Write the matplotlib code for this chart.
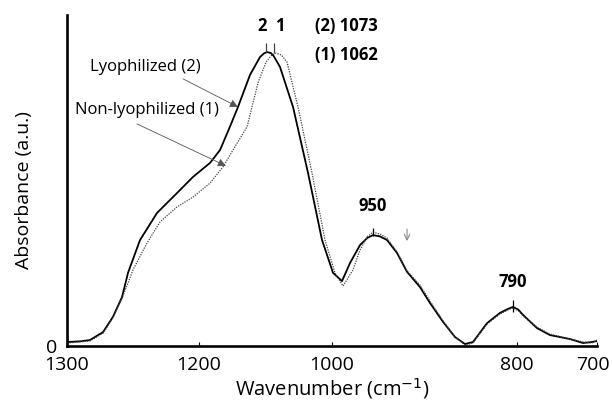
import numpy as np
import matplotlib
matplotlib.use("Agg")
import matplotlib.pyplot as plt
import matplotlib.transforms as mtransforms

plt.rcParams['font.family'] = ['Open Sans', 'DejaVu Sans']

# wavenumber ticks and where they sit along the (non-linear) axis of the original
tick_wn = [1300, 1200, 1000, 800, 700]
tick_pos = [0, 132, 265, 450, 530]

# lyophilized (2), solid line
wn_lyo = [1300, 1290.2, 1282.6, 1272.7, 1265.2, 1258.3, 1253.8, 1244.7, 1231.8, 1216.7,
          1204.5, 1183.5, 1168.4, 1154.0, 1141.4, 1123.3, 1108.3, 1102.3, 1097.7, 1092.0,
          1088.0, 1078.2, 1058.6, 1036.1, 1015.0, 998.9, 989.2, 980.5, 969.7, 962.0,
          955.7, 948.0, 940.5, 929.7, 918.9, 904.9, 894.1, 880.0, 867.0, 856.2,
          847.6, 832.4, 818.4, 809.0, 804.3, 798.5, 792.5, 775.0, 758.8, 733.8,
          717.5, 706.3, 700]
ab_lyo = [0.012, 0.014, 0.018, 0.042, 0.088, 0.148, 0.221, 0.320, 0.402, 0.462,
          0.511, 0.553, 0.592, 0.660, 0.722, 0.819, 0.873, 0.884, 0.888, 0.885,
          0.877, 0.843, 0.722, 0.523, 0.320, 0.221, 0.196, 0.251, 0.305, 0.326,
          0.335, 0.331, 0.320, 0.281, 0.224, 0.178, 0.130, 0.073, 0.027, 0.006,
          0.012, 0.069, 0.100, 0.113, 0.118, 0.110, 0.094, 0.054, 0.033, 0.021,
          0.009, 0.012, 0.015]

# non-lyophilized (1), dotted line
wn_non = [1300, 1282.6, 1272.7, 1265.2, 1258.3, 1253.8, 1250.0, 1239.4, 1229.5, 1216.7,
          1204.5, 1183.5, 1164.0, 1148.9, 1127.8, 1111.3, 1099.2, 1091.0, 1084.2, 1076.0,
          1067.7, 1051.1, 1030.1, 1010.5, 996.8, 988.1, 977.3, 969.7, 962.0, 955.7,
          948.0, 940.5, 929.7, 918.9, 904.9, 894.1, 880.0, 867.0, 856.2, 847.6,
          832.4, 818.4, 809.0, 804.3, 798.5, 792.5, 775.0, 758.8, 733.8, 717.5,
          706.3, 700]
ab_non = [0.009, 0.015, 0.039, 0.085, 0.145, 0.190, 0.230, 0.311, 0.375, 0.420,
          0.450, 0.492, 0.541, 0.592, 0.662, 0.795, 0.858, 0.878, 0.885, 0.879,
          0.858, 0.722, 0.523, 0.320, 0.221, 0.181, 0.230, 0.290, 0.330, 0.344,
          0.338, 0.326, 0.284, 0.227, 0.184, 0.136, 0.076, 0.027, 0.003, 0.009,
          0.066, 0.097, 0.110, 0.115, 0.107, 0.091, 0.057, 0.036, 0.021, 0.012,
          0.009, 0.018]


# increasing mapping wavenumber -> axis position (minus the distance from 1300)
def fwd(x):
    return -np.interp(x, tick_wn[::-1], tick_pos[::-1])


def inv(p):
    return np.interp(-np.asarray(p), tick_pos, tick_wn)


fig = plt.figure(figsize=(6.12, 4.05), dpi=100)
ax = fig.add_axes([0.1095, 0.1457, 0.866, 0.8173])
ax.set_xscale('function', functions=(fwd, inv))

ax.plot(wn_lyo, ab_lyo, color='black', lw=1.3)
ax.plot(wn_non, ab_non, color='#444444', lw=0.9, ls=(0, (1, 1)))

ax.set_xlim(1300, 700)
ax.set_ylim(0, 1)
ax.set_xticks(tick_wn)
ax.set_xticklabels([str(t) for t in tick_wn])
ax.set_yticks([0])
ax.tick_params(axis='x', direction='in', length=3, width=0.8, pad=7, labelsize=14)
ax.tick_params(axis='y', length=0, pad=7, labelsize=14)
for s in ['top', 'right']:
    ax.spines[s].set_visible(False)
for s in ['left', 'bottom']:
    ax.spines[s].set_linewidth(1.9)

# nudge the last tick label so it stays inside the figure
lab = ax.get_xticklabels()[-1]
lab.set_transform(lab.get_transform() +
                  mtransforms.ScaledTranslation(-4 / 100, 0, fig.dpi_scale_trans))

ax.set_xlabel('Wavenumber (cm$^{-1}$)', fontsize=14.5, labelpad=2)
ax.set_ylabel('Absorbance (a.u.)', fontsize=14)
ax.yaxis.set_label_coords(-0.065, 0.47)

# peak markers
ax.vlines([1099.2, 1087.2], [0.888, 0.886], 0.915, color='#444444', lw=0.9)
ax.vlines(955.7, 0.332, 0.356, color='black', lw=0.9)
ax.vlines(804.3, 0.103, 0.139, color='black', lw=0.9)

bold = dict(fontsize=12, fontweight='bold', ha='center', va='center')
ax.text(1105.3, 0.967, '2', **bold)
ax.text(1078.2, 0.967, '1', **bold)
ax.text(984.9, 0.967, '(2) 1073', **bold)
ax.text(984.9, 0.879, '(1) 1062', **bold)
ax.text(955.7, 0.423, '950', **bold)
ax.text(804.3, 0.193, '790', **bold)

ax.text(1240.9, 0.843, 'Lyophilized (2)', fontsize=12, ha='center', va='center')
ax.text(1239.4, 0.713, 'Non-lyophilized (1)', fontsize=12, ha='center', va='center')
arr = dict(arrowstyle='-|>', color='#555555', lw=0.6, mutation_scale=12,
           shrinkA=0, shrinkB=0)
ax.annotate('', xy=(1141.4, 0.722), xytext=(1212.1, 0.807), arrowprops=arr)
ax.annotate('', xy=(1159.5, 0.544), xytext=(1247.0, 0.671), arrowprops=arr)
ax.annotate('', xy=(918.9, 0.317), xytext=(918.9, 0.353),
            arrowprops=dict(arrowstyle='->', color='#888888', lw=0.8,
                            mutation_scale=10, shrinkA=0, shrinkB=0))

fig.savefig('out.png', dpi=100)
